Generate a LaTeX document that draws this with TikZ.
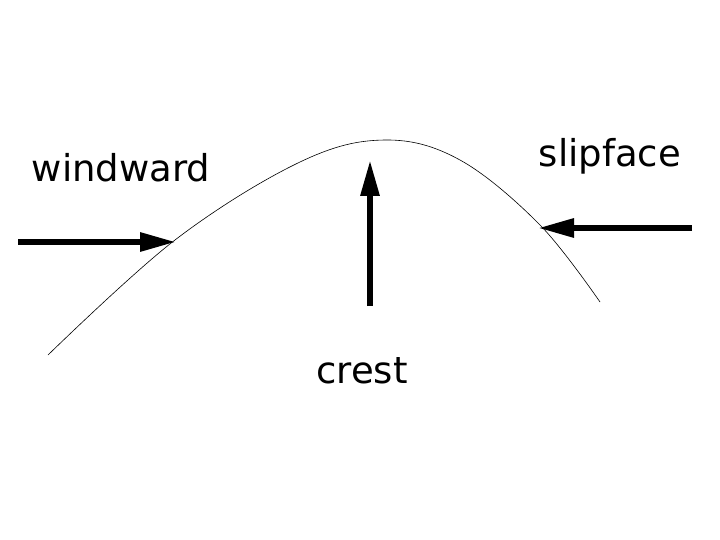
\documentclass[tikz,border=0pt]{standalone}
\usepackage{fontspec}
\setmainfont{DejaVu Sans}
\usetikzlibrary{arrows.meta}
\begin{document}
\begin{tikzpicture}[x=1pt,y=-1pt,
  big/.style={line width=6pt,-{Triangle[length=36pt,width=18pt]}},
  lbl/.style={font=\fontsize{37}{40}\selectfont}]
\useasboundingbox (0,0) rectangle (720,540);
\draw[line width=0.6pt] plot[smooth,tension=0.6] coordinates {(48,355) (175,240) (300,162) (385,140) (460,160) (540,225) (600,302)};
\coordinate (la) at (18,242); \coordinate (lb) at (176,242);
\coordinate (ma) at (370,306); \coordinate (mb) at (370,160);
\coordinate (ra) at (692,228); \coordinate (rb) at (538,228);
\draw[big] (la) -- (lb);
\draw[big] (ma) -- (mb);
\draw[big] (ra) -- (rb);
\node[lbl] (w) at (121,168) {windward};
\node[lbl] (s) at (610,156) {slipface};
\node[lbl] (c) at (362,371) {crest};
\end{tikzpicture}
\end{document}
